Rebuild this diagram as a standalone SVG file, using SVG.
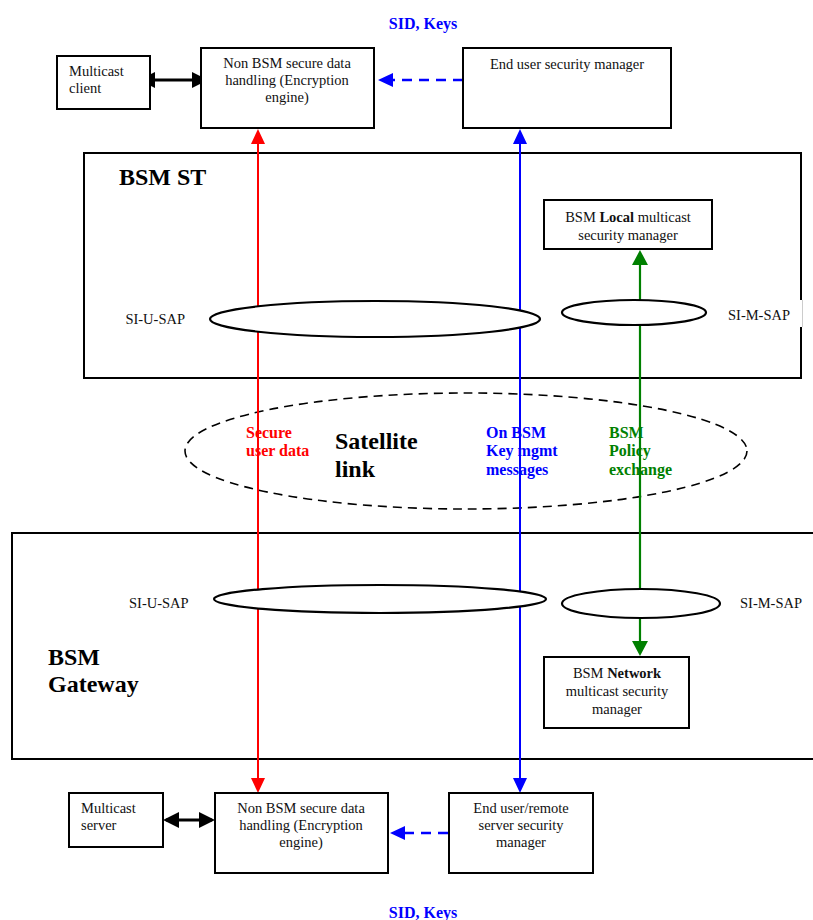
<svg xmlns="http://www.w3.org/2000/svg" width="813" height="920" viewBox="0 0 813 920">
  <style>
    .box { fill: #fff; stroke: #000; stroke-width: 2; }
    .frame { fill: #fff; stroke: #000; stroke-width: 2; }
    .sap { fill: #fff; stroke: #000; stroke-width: 2.2; }
    .t { font-family: "Liberation Serif", "Times New Roman", serif; font-size: 14.5px; fill: #111; }
    .c { text-anchor: middle; }
    .b { font-weight: bold; }
    .lbl { font-family: "Liberation Serif", "Times New Roman", serif; font-size: 16px; font-weight: bold; }
    .big { font-family: "Liberation Serif", "Times New Roman", serif; font-size: 24px; font-weight: bold; fill: #000; }
  </style>
  <defs>
    <marker id="ah-red" markerUnits="userSpaceOnUse" markerWidth="16" markerHeight="14" refX="11" refY="7" orient="auto-start-reverse">
      <path d="M0,0 L15,7 L0,14 z" fill="#ff0000"/>
    </marker>
    <marker id="ah-blue" markerUnits="userSpaceOnUse" markerWidth="16" markerHeight="14" refX="11" refY="7" orient="auto-start-reverse">
      <path d="M0,0 L15,7 L0,14 z" fill="#0000ff"/>
    </marker>
    <marker id="ah-green" markerUnits="userSpaceOnUse" markerWidth="16" markerHeight="16" refX="11" refY="8" orient="auto-start-reverse">
      <path d="M0,0 L15,8 L0,16 z" fill="#008000"/>
    </marker>
    <marker id="ah-black" markerUnits="userSpaceOnUse" markerWidth="17" markerHeight="16" refX="13" refY="8" orient="auto-start-reverse">
      <path d="M0,0 L16,8 L0,16 z" fill="#000"/>
    </marker>
  </defs>

  <rect width="813" height="920" fill="#fff"/>

  <!-- BSM ST container -->
  <g id="bsm-st">
    <rect class="frame" x="84" y="153" width="717" height="225"/>
    <rect x="796" y="300" width="6" height="27" fill="#fff"/>
    <line x1="802.5" y1="300" x2="802.5" y2="327" stroke="#ccc" stroke-width="1"/>
    <text class="big" x="119" y="185">BSM ST</text>
  </g>

  <!-- BSM Gateway container -->
  <g id="bsm-gateway">
    <rect class="frame" x="12" y="533" width="830" height="226"/>
    <text class="big" x="48" y="665">BSM</text>
    <text class="big" x="48" y="692">Gateway</text>
  </g>

  <!-- Satellite link -->
  <g id="satellite-link">
    <ellipse cx="466" cy="451" rx="281" ry="58" fill="none" stroke="#000" stroke-width="1.6" stroke-dasharray="9,6"/>
    <text class="big" x="335" y="449">Satellite</text>
    <text class="big" x="335" y="477">link</text>
  </g>

  <!-- Connectors -->
  <g id="connectors">
    <line x1="258" y1="133" x2="258" y2="789" stroke="#ff0000" stroke-width="2" marker-start="url(#ah-red)" marker-end="url(#ah-red)"/>
    <line x1="520" y1="133" x2="520" y2="789" stroke="#0000ff" stroke-width="2" marker-start="url(#ah-blue)" marker-end="url(#ah-blue)"/>
    <line x1="640" y1="254" x2="640" y2="652" stroke="#008000" stroke-width="2.2" marker-start="url(#ah-green)" marker-end="url(#ah-green)"/>
    <line x1="142" y1="80" x2="205" y2="80" stroke="#000" stroke-width="3" marker-start="url(#ah-black)" marker-end="url(#ah-black)"/>
    <line x1="166" y1="820" x2="212" y2="820" stroke="#000" stroke-width="3" marker-start="url(#ah-black)" marker-end="url(#ah-black)"/>
    <line x1="463" y1="80" x2="382" y2="80" stroke="#0000ff" stroke-width="2.5" stroke-dasharray="10,7" marker-end="url(#ah-blue)"/>
    <line x1="448" y1="833" x2="394" y2="833" stroke="#0000ff" stroke-width="2.5" stroke-dasharray="10,7" marker-end="url(#ah-blue)"/>
  </g>

  <!-- Flow labels -->
  <g id="flow-labels">
    <text class="lbl" x="246" y="438" fill="#ff0000">Secure</text>
    <text class="lbl" x="246" y="456" fill="#ff0000">user data</text>
    <text class="lbl" x="486" y="438" fill="#0000ff">On BSM</text>
    <text class="lbl" x="486" y="456" fill="#0000ff">Key mgmt</text>
    <text class="lbl" x="486" y="475" fill="#0000ff">messages</text>
    <text class="lbl" x="609" y="438" fill="#008000">BSM</text>
    <text class="lbl" x="609" y="456" fill="#008000">Policy</text>
    <text class="lbl" x="609" y="475" fill="#008000">exchange</text>
    <text class="lbl c" x="423" y="29" fill="#0000ff">SID, Keys</text>
    <text class="lbl c" x="423" y="918" fill="#0000ff">SID, Keys</text>
  </g>

  <!-- Service access points -->
  <g id="st-si-u-sap">
    <ellipse class="sap" cx="375" cy="319" rx="165" ry="18"/>
    <text class="t" x="185" y="324" text-anchor="end">SI-U-SAP</text>
  </g>
  <g id="st-si-m-sap">
    <ellipse class="sap" cx="634" cy="312.5" rx="72" ry="12.5"/>
    <text class="t" x="728" y="320">SI-M-SAP</text>
  </g>
  <g id="gw-si-u-sap">
    <ellipse class="sap" cx="380" cy="599" rx="166" ry="14"/>
    <text class="t" x="129" y="608">SI-U-SAP</text>
  </g>
  <g id="gw-si-m-sap">
    <ellipse class="sap" cx="641" cy="603.5" rx="79" ry="14.5"/>
    <text class="t" x="740" y="608">SI-M-SAP</text>
  </g>

  <!-- Terminal side -->
  <g id="multicast-client">
    <rect class="box" x="57" y="56" width="93" height="53"/>
    <text class="t" x="69" y="76">Multicast</text>
    <text class="t" x="69" y="93">client</text>
  </g>
  <g id="st-encryption-engine">
    <rect class="box" x="201" y="48" width="173" height="80"/>
    <text class="t c" x="287" y="68">Non BSM secure data</text>
    <text class="t c" x="287" y="85">handling (Encryption</text>
    <text class="t c" x="287" y="102">engine)</text>
  </g>
  <g id="end-user-security-manager">
    <rect class="box" x="463" y="48" width="208" height="80"/>
    <text class="t c" x="567" y="69">End user security manager</text>
  </g>
  <g id="local-security-manager">
    <rect class="box" x="544" y="200" width="168" height="49"/>
    <text class="t c" x="628" y="222">BSM <tspan class="b">Local</tspan> multicast</text>
    <text class="t c" x="628" y="240">security manager</text>
  </g>

  <!-- Gateway side -->
  <g id="network-security-manager">
    <rect class="box" x="544" y="657" width="145" height="71"/>
    <text class="t c" x="617" y="678">BSM <tspan class="b">Network</tspan></text>
    <text class="t c" x="617" y="696">multicast security</text>
    <text class="t c" x="617" y="714">manager</text>
  </g>
  <g id="multicast-server">
    <rect class="box" x="69" y="793" width="94" height="54"/>
    <text class="t" x="81" y="813">Multicast</text>
    <text class="t" x="81" y="830">server</text>
  </g>
  <g id="gw-encryption-engine">
    <rect class="box" x="215" y="793" width="173" height="80"/>
    <text class="t c" x="301" y="813">Non BSM secure data</text>
    <text class="t c" x="301" y="830">handling (Encryption</text>
    <text class="t c" x="301" y="847">engine)</text>
  </g>
  <g id="remote-security-manager">
    <rect class="box" x="449" y="793" width="144" height="80"/>
    <text class="t c" x="521" y="813">End user/remote</text>
    <text class="t c" x="521" y="830">server security</text>
    <text class="t c" x="521" y="847">manager</text>
  </g>
</svg>
